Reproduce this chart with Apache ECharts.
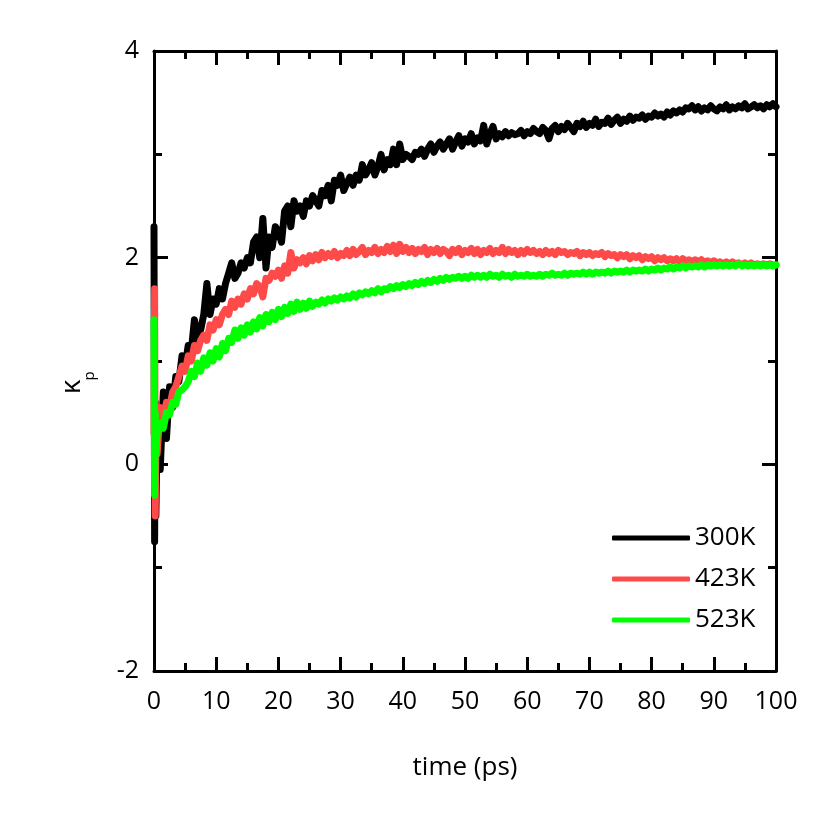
<!DOCTYPE html>
<html>
<head>
<meta charset="utf-8">
<script src="https://cdn.jsdelivr.net/npm/echarts@6/dist/echarts.min.js"></script>
<style>html,body{margin:0;padding:0;background:#fff;}#c{width:827px;height:827px;}</style>
</head>
<body>
<div id="c"></div>
<script>
// time (ps)
const times = [0, 0.1, 0.2, 0.3,
 0.5, 1, 1.5, 2, 2.5, 3, 3.5, 4, 4.5, 5,
 5.5, 6, 6.5, 7, 7.5, 8, 8.5, 9, 9.5, 10,
 10.5, 11, 11.5, 12, 12.5, 13, 13.5, 14, 14.5, 15,
 15.5, 16, 16.5, 17, 17.5, 18, 18.5, 19, 19.5, 20,
 20.5, 21, 21.5, 22, 22.5, 23, 23.5, 24, 24.5, 25,
 25.5, 26, 26.5, 27, 27.5, 28, 28.5, 29, 29.5, 30,
 30.5, 31, 31.5, 32, 32.5, 33, 33.5, 34, 34.5, 35,
 35.5, 36, 36.5, 37, 37.5, 38, 38.5, 39, 39.5, 40,
 40.5, 41, 41.5, 42, 42.5, 43, 43.5, 44, 44.5, 45,
 45.5, 46, 46.5, 47, 47.5, 48, 48.5, 49, 49.5, 50,
 50.5, 51, 51.5, 52, 52.5, 53, 53.5, 54, 54.5, 55,
 55.5, 56, 56.5, 57, 57.5, 58, 58.5, 59, 59.5, 60,
 60.5, 61, 61.5, 62, 62.5, 63, 63.5, 64, 64.5, 65,
 65.5, 66, 66.5, 67, 67.5, 68, 68.5, 69, 69.5, 70,
 70.5, 71, 71.5, 72, 72.5, 73, 73.5, 74, 74.5, 75,
 75.5, 76, 76.5, 77, 77.5, 78, 78.5, 79, 79.5, 80,
 80.5, 81, 81.5, 82, 82.5, 83, 83.5, 84, 84.5, 85,
 85.5, 86, 86.5, 87, 87.5, 88, 88.5, 89, 89.5, 90,
 90.5, 91, 91.5, 92, 92.5, 93, 93.5, 94, 94.5, 95,
 95.5, 96, 96.5, 97, 97.5, 98, 98.5, 99, 99.5, 100];

const k300 = [2.3, -0.75, 0.6, -0.5,
 0.3, -0.05, 0.7, 0.25, 0.75, 0.55, 0.85, 0.8, 1.05, 0.95,
 1.15, 1.1, 1.4, 1.2, 1.3, 1.45, 1.75, 1.45, 1.6, 1.55,
 1.7, 1.6, 1.75, 1.85, 1.95, 1.8, 1.85, 1.95, 1.9, 2.0,
 1.95, 2.15, 2.2, 2.0, 2.38, 1.9, 2.2, 2.1, 2.3, 2.25,
 2.15, 2.45, 2.5, 2.3, 2.55, 2.45, 2.5, 2.4, 2.55, 2.5,
 2.6, 2.55, 2.5, 2.65, 2.6, 2.7, 2.55, 2.75, 2.7, 2.8,
 2.65, 2.72, 2.78, 2.7, 2.8, 2.75, 2.9, 2.8, 2.85, 2.92,
 2.8, 2.88, 3.0, 2.85, 2.95, 2.9, 3.05, 2.9, 3.1, 2.95,
 3.0, 2.98, 2.95, 3.02, 3.0, 3.05, 2.98, 3.05, 3.1, 3.02,
 3.08, 3.12, 3.05, 3.1, 3.15, 3.05, 3.12, 3.18, 3.08, 3.15,
 3.12, 3.2, 3.1, 3.16, 3.13, 3.28, 3.1, 3.2, 3.27, 3.15,
 3.2, 3.17, 3.22, 3.18, 3.21, 3.19, 3.2, 3.23, 3.18, 3.22,
 3.2, 3.25, 3.22, 3.2, 3.26, 3.23, 3.15, 3.25, 3.28, 3.22,
 3.27, 3.24, 3.3, 3.26, 3.22, 3.3, 3.27, 3.32, 3.26, 3.3,
 3.28, 3.34, 3.27, 3.31, 3.3, 3.35, 3.29, 3.33, 3.36, 3.3,
 3.34, 3.32, 3.37, 3.33, 3.36, 3.35, 3.38, 3.34, 3.37, 3.36,
 3.4, 3.37, 3.39, 3.36, 3.41, 3.38, 3.42, 3.4, 3.43, 3.41,
 3.45, 3.44, 3.47, 3.43, 3.46, 3.42, 3.45, 3.43, 3.47, 3.44,
 3.42, 3.46, 3.44, 3.48, 3.43, 3.46, 3.44, 3.47, 3.45, 3.49,
 3.44, 3.46, 3.48, 3.45, 3.47, 3.44, 3.48, 3.46, 3.49, 3.46];

const k423 = [0.3, 1.7, -0.5, 0.2,
 0.1, 0.55, 0.45, 0.6, 0.55, 0.7, 0.75, 0.85, 0.95, 0.9,
 1.05, 1.0, 1.15, 1.1, 1.2, 1.25, 1.2, 1.35, 1.3, 1.4,
 1.35, 1.45, 1.5, 1.45, 1.58, 1.52, 1.6, 1.55, 1.65, 1.6,
 1.7, 1.65, 1.75, 1.72, 1.62, 1.8, 1.78, 1.85, 1.82, 1.88,
 1.8, 1.92, 1.85, 2.05, 1.9, 1.98, 1.95, 2.0, 1.94, 2.02,
 1.97, 2.03, 1.98, 2.05, 2.0, 2.04, 2.01, 2.06, 2.0, 2.04,
 2.02, 2.07, 2.02, 2.08, 2.03, 2.06, 2.1, 2.03, 2.07, 2.05,
 2.1, 2.04, 2.08, 2.05, 2.11, 2.06, 2.12, 2.04, 2.13, 2.06,
 2.1, 2.05, 2.09, 2.04, 2.08, 2.06, 2.1, 2.03, 2.08, 2.05,
 2.09, 2.04, 2.08, 2.06, 2.02, 2.08, 2.05, 2.09, 2.03, 2.07,
 2.05, 2.09, 2.04, 2.08, 2.03, 2.07, 2.05, 2.09, 2.04, 2.07,
 2.05, 2.1, 2.04, 2.08, 2.05, 2.07, 2.03, 2.07, 2.04, 2.08,
 2.05, 2.07, 2.04, 2.06, 2.03, 2.07, 2.04, 2.06, 2.03, 2.07,
 2.05, 2.06, 2.03, 2.05, 2.04, 2.06, 2.02, 2.05, 2.03, 2.05,
 2.02, 2.04, 2.03, 2.05, 2.01, 2.04, 2.02, 2.03, 2.0, 2.03,
 2.01, 2.03, 1.99, 2.02, 2.0, 2.02, 1.98, 2.01, 1.99, 2.01,
 1.97, 2.0, 1.98, 2.0, 1.97, 1.99, 1.97, 1.99, 1.96, 1.99,
 1.97, 1.98, 1.96, 1.98, 1.96, 1.98, 1.95, 1.97, 1.95, 1.97,
 1.95, 1.96, 1.94, 1.96, 1.94, 1.96, 1.94, 1.95, 1.93, 1.95,
 1.93, 1.95, 1.93, 1.94, 1.93, 1.94, 1.93, 1.94, 1.93, 1.93];

const k523 = [1.4, -0.3, 0.5, 0.1,
 0.3, 0.4, 0.35, 0.5, 0.48, 0.6, 0.58, 0.7, 0.72, 0.75,
 0.8, 0.9, 0.85, 0.98, 0.9, 1.03, 0.96, 1.08, 1.0, 1.12,
 1.04, 1.17, 1.1, 1.22, 1.18, 1.3, 1.22, 1.32, 1.25, 1.35,
 1.28, 1.38, 1.31, 1.42, 1.34, 1.45, 1.38, 1.47, 1.4, 1.5,
 1.43, 1.52, 1.46, 1.55, 1.48, 1.57, 1.5, 1.56, 1.51, 1.58,
 1.53, 1.57, 1.55, 1.59, 1.56, 1.6, 1.58, 1.61, 1.59, 1.62,
 1.6, 1.63, 1.61, 1.65, 1.62, 1.66, 1.64, 1.67, 1.65, 1.68,
 1.66, 1.7, 1.67, 1.7, 1.69, 1.72, 1.7, 1.73, 1.71, 1.74,
 1.72, 1.75, 1.73, 1.76, 1.74, 1.77, 1.75, 1.78, 1.76, 1.79,
 1.77, 1.8, 1.78, 1.81, 1.79, 1.81, 1.8, 1.82, 1.8, 1.82,
 1.8, 1.83, 1.81, 1.83, 1.81, 1.83, 1.81, 1.84, 1.82, 1.83,
 1.81, 1.84, 1.82, 1.83, 1.81, 1.84, 1.82, 1.83, 1.82, 1.84,
 1.82, 1.83, 1.82, 1.84, 1.82, 1.84, 1.83, 1.85, 1.83, 1.84,
 1.83, 1.85, 1.83, 1.85, 1.84, 1.85, 1.84, 1.86, 1.84, 1.86,
 1.84, 1.86, 1.85, 1.86, 1.85, 1.87, 1.85, 1.87, 1.86, 1.87,
 1.86, 1.88, 1.86, 1.88, 1.87, 1.88, 1.87, 1.89, 1.87, 1.89,
 1.88, 1.9, 1.88, 1.9, 1.89, 1.91, 1.89, 1.91, 1.9, 1.92,
 1.9, 1.92, 1.91, 1.92, 1.91, 1.93, 1.91, 1.93, 1.92, 1.93,
 1.92, 1.93, 1.92, 1.93, 1.92, 1.93, 1.92, 1.94, 1.92, 1.93,
 1.92, 1.93, 1.92, 1.93, 1.92, 1.93, 1.92, 1.93, 1.92, 1.93];

const seriesNames = ['300K', '423K', '523K'];
const seriesColors = ['#000000', '#ff4a4a', '#00ff00'];
const seriesValues = [k300, k423, k523];

const xTicks = { min: 0, max: 100, interval: 10 };
const yTicks = { min: -2, max: 4, interval: 2 };

const FONT = '"Open Sans", "Noto Sans", sans-serif';

function pairs(vals) { return times.map((t, i) => [t, vals[i]]); }

function axisCommon(extra) {
  return Object.assign({
    type: 'value',
    axisLine: { show: true, onZero: false, lineStyle: { color: '#000', width: 3 } },
    axisTick: { show: true, inside: true, length: 14, lineStyle: { color: '#000', width: 3 } },
    minorTick: { show: true, splitNumber: 2, length: 8, lineStyle: { color: '#000', width: 3 } },
    splitLine: { show: false },
    minorSplitLine: { show: false }
  }, extra);
}

const chart = echarts.init(document.getElementById('c'), null, { renderer: 'canvas' });
chart.setOption({
  animation: false,
  backgroundColor: '#fff',
  grid: { left: 154, right: 51, top: 51, bottom: 156, containLabel: false },
  xAxis: [
    axisCommon({
      min: xTicks.min, max: xTicks.max, interval: xTicks.interval, position: 'bottom',
      axisLabel: { show: true, color: '#000', fontSize: 25, fontFamily: FONT, margin: 18 },
      name: 'time (ps)', nameLocation: 'middle', nameGap: 84,
      nameTextStyle: { color: '#000', fontSize: 26, fontFamily: FONT }
    }),
    axisCommon({
      min: xTicks.min, max: xTicks.max, interval: xTicks.interval, position: 'top',
      axisLabel: { show: false }
    })
  ],
  yAxis: [
    axisCommon({
      min: yTicks.min, max: yTicks.max, interval: yTicks.interval, position: 'left',
      axisLabel: { show: true, color: '#000', fontSize: 25, fontFamily: FONT, margin: 15 }
    }),
    axisCommon({
      min: yTicks.min, max: yTicks.max, interval: yTicks.interval, position: 'right',
      axisLabel: { show: false }
    })
  ],
  legend: {
    orient: 'vertical',
    left: 607, top: 518,
    icon: 'roundRect',
    itemWidth: 78, itemHeight: 5,
    itemGap: 11,
    data: seriesNames,
    textStyle: { color: '#000', fontSize: 26, fontFamily: FONT, lineHeight: 30, padding: [0, 0, 0, 0] }
  },
  graphic: [
    { type: 'text', x: 86, y: 387, rotation: Math.PI / 2,
      style: { text: 'κ', fontSize: 28, fontFamily: FONT, fill: '#000', align: 'center', verticalAlign: 'bottom' } },
    { type: 'text', x: 97, y: 376, rotation: Math.PI / 2,
      style: { text: 'p', fontSize: 15, fontFamily: FONT, fill: '#000', align: 'center', verticalAlign: 'bottom' } }
  ],
  series: seriesValues.map((vals, i) => ({
    name: seriesNames[i],
    type: 'line',
    data: pairs(vals),
    showSymbol: false,
    symbol: 'none',
    clip: true,
    z: 2 + i,
    lineStyle: { color: seriesColors[i], width: 7, cap: 'round', join: 'round' },
    itemStyle: { color: seriesColors[i] }
  }))
});
</script>
</body>
</html>
